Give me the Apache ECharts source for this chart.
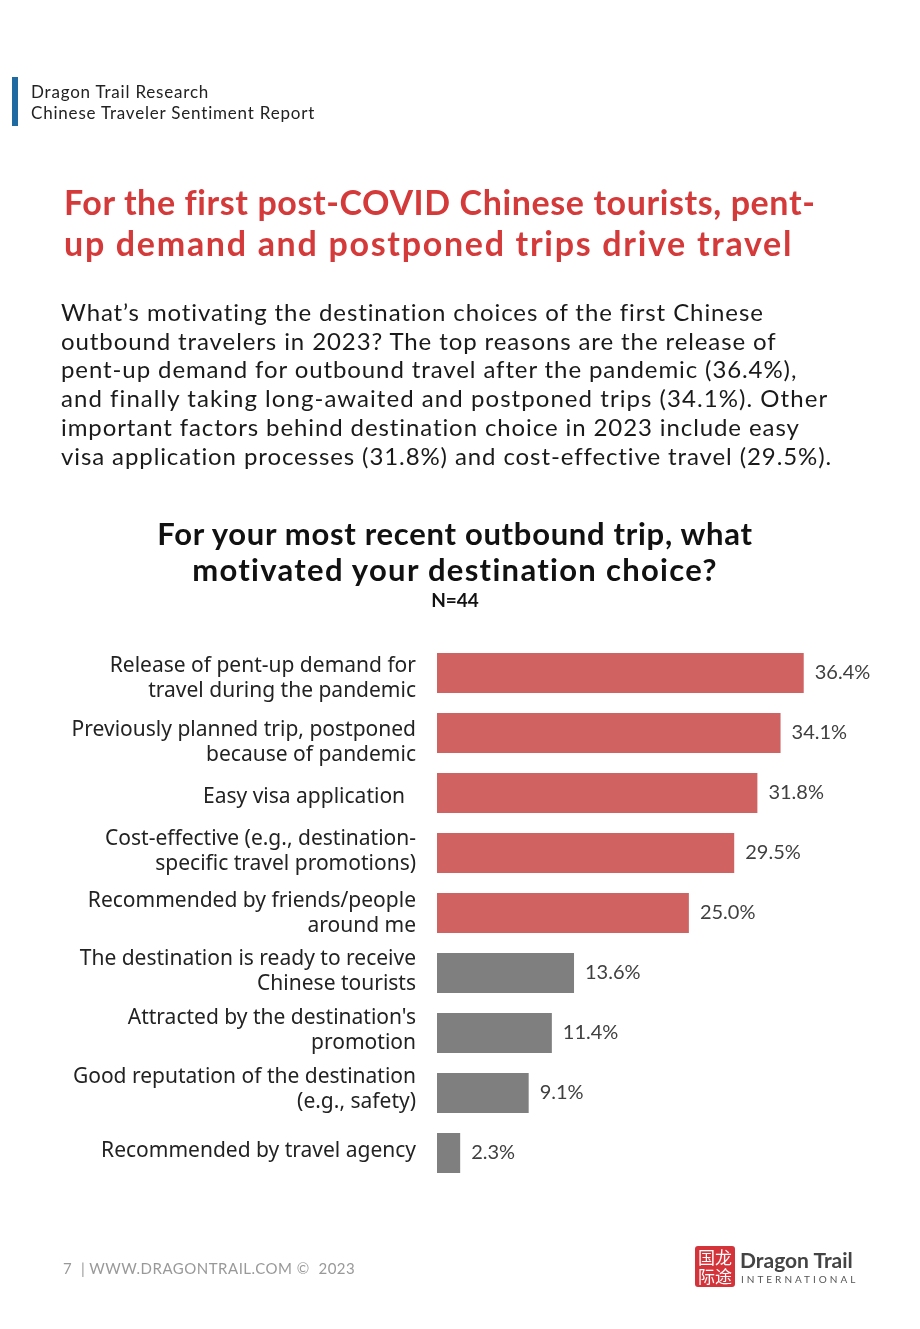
<!DOCTYPE html>
<html lang="en">
<head>
    <meta charset="utf-8">
    <title>Chinese Traveler Sentiment Report</title>
    <script src="https://cdn.jsdelivr.net/npm/echarts@6/dist/echarts.min.js"></script>
    <style>
        body { margin: 0; background: #fff; font-family: Lato, sans-serif; }
        #page { position: relative; width: 920px; height: 1329px; overflow: hidden; }
        #chart { position: absolute; left: 0; top: 0; width: 920px; height: 1329px; }
        .abs { position: absolute; white-space: nowrap; }
        #bar { left: 12px; top: 77px; width: 6px; height: 49px; background: #1f6aa0; }
        #head { left: 31px; top: 81px; font-size: 17px; line-height: 21px; color: #222; letter-spacing: 0.8px; }
        #title { left: 64px; top: 181px; font-size: 34px; line-height: 41px; font-weight: bold; color: #d43a3a; }
        #para { left: 61px; top: 298px; font-size: 24px; line-height: 28.7px; color: #1a1a1a; letter-spacing: 0.9px; }
        #ctitle { left: 0; width: 910px; top: 515px; text-align: center; font-size: 31px; line-height: 36px; font-weight: bold; color: #111; }
        #nval { left: 0; width: 910px; top: 589px; text-align: center; font-size: 19px; line-height: 22px; font-weight: bold; color: #111; }
        #foot { left: 63px; top: 1259px; font-size: 15px; color: #999; letter-spacing: 0.5px; }
        #logo { left: 695px; top: 1246px; width: 40px; height: 41px; background: #d4333a; border-radius: 3px;
                color: #fff; font-family: "Noto Sans CJK SC"; font-size: 17px; line-height: 19px; text-align: center; padding-top: 1px; box-sizing: border-box; }
        #brand { left: 740px; top: 1247px; font-size: 21px; font-weight: bold; color: #444; line-height: 26px; }
        #intl { left: 741px; top: 1273px; font-size: 10px; letter-spacing: 3px; color: #555; }
    </style>
</head>
<body>
<div id="page">
    <div id="chart"></div>
    <div class="abs" id="bar"></div>
    <div class="abs" id="head">Dragon Trail Research<br>Chinese Traveler Sentiment Report</div>
    <div class="abs" id="title"><span style="letter-spacing:0.6px">For the first post-COVID Chinese tourists, pent-</span><br><span style="letter-spacing:1.7px">up demand and postponed trips drive travel</span></div>
    <div class="abs" id="para">What’s motivating the destination choices of the first Chinese<br>outbound travelers in 2023? The top reasons are the release of<br>pent-up demand for outbound travel after the pandemic (36.4%),<br><span style="letter-spacing:1.05px">and finally taking long-awaited and postponed trips (34.1%). Other</span><br>important factors behind destination choice in 2023 include easy<br>visa application processes (31.8%) and cost-effective travel (29.5%).</div>
    <div class="abs" id="ctitle"><span style="letter-spacing:0.7px">For your most recent outbound trip, what</span><br><span style="letter-spacing:1.3px">motivated your destination choice?</span></div>
    <div class="abs" id="nval">N=44</div>
    <div class="abs" id="foot">7 &nbsp;| WWW.DRAGONTRAIL.COM © &nbsp;2023</div>
    <div class="abs" id="logo">国龙<br>际途</div>
    <div class="abs" id="brand">Dragon Trail</div>
    <div class="abs" id="intl">INTERNATIONAL</div>
</div>
<script>
    // 选项与数值
    var reasons = [
        'Release of pent-up demand for\ntravel during the pandemic',
        'Previously planned trip, postponed\nbecause of pandemic',
        'Easy visa application  ',
        'Cost-effective (e.g., destination-\nspecific travel promotions)',
        'Recommended by friends/people\naround me',
        'The destination is ready to receive\nChinese tourists',
        "Attracted by the destination's\npromotion",
        'Good reputation of the destination\n(e.g., safety)',
        'Recommended by travel agency'
    ];
    var shares = [36.4, 34.1, 31.8, 29.5, 25.0, 13.6, 11.4, 9.1, 2.3];
    var highlighted = 5; // 前五项用红色
    // 标签上下微调（像素，正数向下）
    var labelNudge = [6, 10, 4, -1, 1, -1, -2, -3, -2];

    var rich = { t: { fontFamily: 'Noto Sans', fontSize: 21, lineHeight: 25, color: '#222', align: 'right' } };
    labelNudge.forEach(function (n) {
        if (n !== 0) rich['g' + Math.abs(n)] = { fontSize: 1, lineHeight: 2 * Math.abs(n) };
    });

    var chart = echarts.init(document.getElementById('chart'));
    chart.setOption({
        animation: false,
        grid: { left: 437, top: 643, width: 403, height: 540 },
        xAxis: {
            type: 'value', min: 0, max: 40,
            show: false
        },
        yAxis: {
            type: 'category',
            data: reasons,
            inverse: true,
            axisLine: { show: false },
            axisTick: { show: false },
            axisLabel: {
                interval: 0,
                hideOverlap: false,
                margin: 21,
                align: 'right',
                formatter: function (value, index) {
                    var s = value.split('\n').map(function (l) { return '{t|' + l + '}'; }).join('\n');
                    var n = labelNudge[index];
                    if (n > 0) s = '{g' + n + '| }\n' + s;
                    if (n < 0) s = s + '\n{g' + (-n) + '| }';
                    return s;
                },
                rich: rich
            }
        },
        series: [{
            type: 'bar',
            data: shares.map(function (v, i) {
                return { value: v, itemStyle: { color: i < highlighted ? '#d06262' : '#7f7f7f' } };
            }),
            barWidth: 40,
            label: {
                show: true,
                position: 'right',
                distance: 11,
                fontFamily: 'Lato',
                fontSize: 20,
                color: '#404040',
                formatter: function (p) { return p.value.toFixed(1) + '%'; }
            }
        }]
    });
</script>
</body>
</html>
